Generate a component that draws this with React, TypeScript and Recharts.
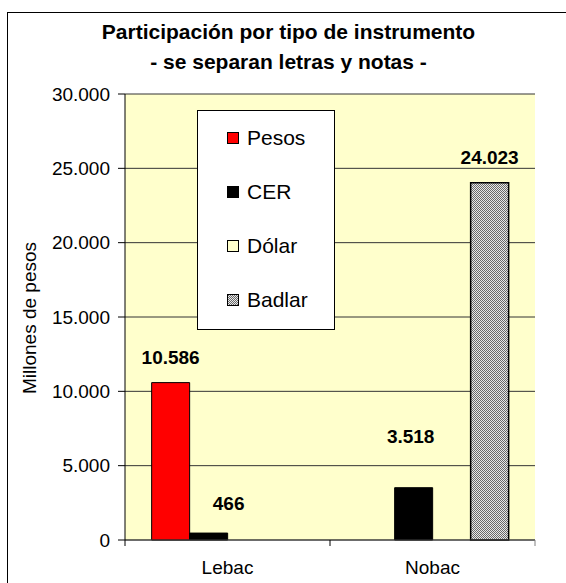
import React from 'react';
import { BarChart, Bar, XAxis, YAxis, CartesianGrid, Legend, LabelList, Label } from 'recharts';

const categories = ['Lebac', 'Nobac'];
const seriesNames = ['Pesos', 'CER', 'Dólar', 'Badlar'];
const pesos = [10586, 0];
const cer = [466, 3518];
const dolar = [0, 0];
const badlar = [0, 24023];
const yTicks = [0, 5000, 10000, 15000, 20000, 25000, 30000];

const titleLines = ['Participación por tipo de instrumento', '- se separan letras y notas -'];
const yTitle = 'Millones de pesos';

const data = categories.map((c, i) => ({
  name: c,
  Pesos: pesos[i],
  CER: cer[i],
  Dolar: dolar[i],
  Badlar: badlar[i],
}));

const FONT = '"Liberation Sans", Arial, sans-serif';

// style: per-series label nudges [dx, dy above bar top] by category index
const LABEL_NUDGE: Record<string, [number, number][]> = {
  Pesos: [[0, 25], [0, 25]],
  CER: [[20, 30], [-3, 51]],
  Dolar: [[0, 25], [0, 25]],
  Badlar: [[0, 25], [-14, 32]],
};

const fmt = (v: number) => String(Math.round(v)).replace(/\B(?=(\d{3})+(?!\d))/g, '.');

const makeLabel = (key: string) => (props: any) => {
  const { x, y, width, value, index } = props;
  if (!value) return null;
  const [dx, dy] = LABEL_NUDGE[key][index] || [0, 25];
  return (
    <text
      x={Number(x) + Number(width) / 2 + dx}
      y={Number(y) - dy}
      textAnchor="middle"
      dominantBaseline="central"
      fontFamily={FONT}
      fontWeight="bold"
      fontSize={19}
      fill="#000"
    >
      {fmt(Number(value))}
    </text>
  );
};

const XTick = (props: any) => {
  const { x, y, payload, index, width, visibleTicksCount } = props;
  const band = (Number(width) || 410) / (visibleTicksCount || categories.length);
  const half = band / 2;
  const last = index === (visibleTicksCount || categories.length) - 1;
  return (
    <g>
      <line x1={x - half} x2={x - half} y1={y} y2={y + 6} stroke="#000" strokeWidth={1} />
      {last && <line x1={x + half} x2={x + half} y1={y} y2={y + 6} stroke="#808080" strokeWidth={1} />}
      <text x={x} y={y + 34} textAnchor="middle" fontFamily={FONT} fontSize={19} fill="#000">
        {payload.value}
      </text>
    </g>
  );
};

const YTitle = () => (
  <text
    x={29}
    y={318}
    transform="rotate(-90, 29, 318)"
    textAnchor="middle"
    dominantBaseline="central"
    fontFamily={FONT}
    fontSize={19}
    fill="#000"
  >
    {yTitle}
  </text>
);

const LegendBox = (props: any) => {
  const payload = [...(props.payload || [])].sort(
    (a: any, b: any) => seriesNames.indexOf(a.value) - seriesNames.indexOf(b.value)
  );
  return (
    <div
      style={{
        width: 138,
        height: 220,
        boxSizing: 'border-box',
        border: '1px solid #000',
        background: '#fff',
        position: 'relative',
        fontFamily: FONT,
      }}
    >
      {payload.map((p: any, i: number) => (
        <div
          key={p.value}
          style={{
            position: 'absolute',
            left: 0,
            top: 27 + i * 54 - 12,
            height: 24,
            width: 138,
            display: 'flex',
            alignItems: 'center',
          }}
        >
          <svg width={12} height={12} style={{ marginLeft: 29, marginRight: 8, display: 'block' }}>
            <rect x={0.5} y={0.5} width={11} height={11} fill={p.payload?.fill || p.color} stroke="#000" strokeWidth={1} />
          </svg>
          <span style={{ fontSize: 21, color: '#000', lineHeight: '24px' }}>{p.value}</span>
        </div>
      ))}
    </div>
  );
};

export default function App() {
  return (
    <div style={{ position: 'fixed', left: 0, top: 0, width: 566, height: 583, background: '#fff', overflow: 'hidden' }}>
      <div
        style={{
          position: 'absolute',
          left: 7,
          top: 12,
          width: 700,
          height: 700,
          borderLeft: '1px solid #000',
          borderTop: '1px solid #000',
        }}
      />
      {titleLines.map((t, i) => (
        <div
          key={i}
          style={{
            position: 'absolute',
            left: 0,
            width: 577,
            top: 19 + i * 30,
            height: 26,
            lineHeight: '26px',
            textAlign: 'center',
            fontFamily: FONT,
            fontWeight: 'bold',
            fontSize: 21,
            color: '#000',
          }}
        >
          {t}
        </div>
      ))}
      <div style={{ position: 'absolute', left: 0, top: 0 }}>
        <BarChart
          width={566}
          height={583}
          data={data}
          margin={{ top: 94, right: 31, bottom: 0, left: 0 }}
          barCategoryGap="13%"
          barGap={0}
        >
          <defs>
            <pattern id="badlarPat" width="2" height="2" patternUnits="userSpaceOnUse">
              <rect width="2" height="2" fill="#e8e8e8" />
              <rect width="1" height="1" fill="#6a6a6a" />
              <rect x="1" y="1" width="1" height="1" fill="#6a6a6a" />
            </pattern>
          </defs>
          <CartesianGrid vertical={false} stroke="#333" fill="#FFFFCC" fillOpacity={1} />
          <XAxis
            dataKey="name"
            height={43}
            axisLine={{ stroke: '#404040', strokeWidth: 1 }}
            tickLine={false}
            tickSize={0}
            tickMargin={0}
            interval={0}
            tick={<XTick />}
          />
          <XAxis xAxisId="top" orientation="top" dataKey="name" height={0} tick={false} tickLine={false} axisLine={{ stroke: '#808080', strokeWidth: 2 }} />
          <YAxis
            width={125}
            domain={[0, 30000]}
            ticks={yTicks}
            interval={0}
            tickFormatter={fmt}
            tickSize={7}
            tickMargin={8}
            axisLine={{ stroke: '#000' }}
            tickLine={{ stroke: '#000' }}
            tick={{ fontFamily: FONT, fontSize: 19, fill: '#000' }}
          >
            <Label content={<YTitle />} />
          </YAxis>
          <YAxis yAxisId="right" orientation="right" width={0} domain={[0, 30000]} tick={false} tickLine={false} axisLine={{ stroke: '#808080', strokeWidth: 2 }} />
          <Legend
            layout="vertical"
            align="center"
            verticalAlign="middle"
            content={<LegendBox />}
            wrapperStyle={{ position: 'absolute', left: 197, top: 110, width: 138, height: 220 }}
          />
          <Bar dataKey="Pesos" name="Pesos" fill="#FF0000" stroke="#000" strokeWidth={1} isAnimationActive={false}>
            <LabelList dataKey="Pesos" content={makeLabel('Pesos')} />
          </Bar>
          <Bar dataKey="CER" name="CER" fill="#000000" stroke="#000" strokeWidth={1} isAnimationActive={false}>
            <LabelList dataKey="CER" content={makeLabel('CER')} />
          </Bar>
          <Bar dataKey="Dolar" name="Dólar" fill="#FFFFCC" stroke="#000" strokeWidth={1} isAnimationActive={false}>
            <LabelList dataKey="Dolar" content={makeLabel('Dolar')} />
          </Bar>
          <Bar dataKey="Badlar" name="Badlar" fill="url(#badlarPat)" stroke="#000" strokeWidth={1.5} isAnimationActive={false}>
            <LabelList dataKey="Badlar" content={makeLabel('Badlar')} />
          </Bar>
        </BarChart>
      </div>
    </div>
  );
}
